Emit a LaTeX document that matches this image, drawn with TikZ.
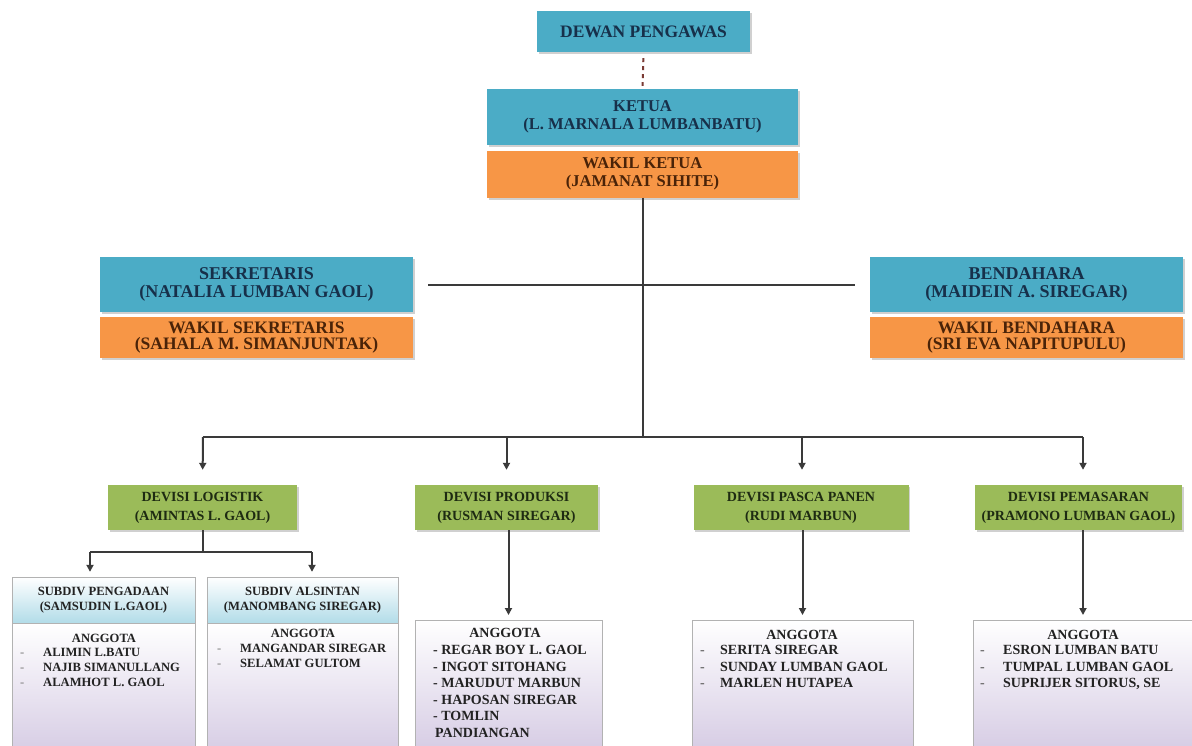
\documentclass[tikz,border=0pt]{standalone}
\usepackage{fontspec}
\setmainfont{Liberation Serif}
\usetikzlibrary{arrows.meta,shadows,calc}
\definecolor{boxblue}{HTML}{4BACC6}
\definecolor{boxorange}{HTML}{F79646}
\definecolor{boxgreen}{HTML}{9BBB59}
\definecolor{txtblue}{HTML}{17304A}
\definecolor{txtbrown}{HTML}{4A2308}
\definecolor{txtgreen}{HTML}{1E2B12}
\definecolor{lav}{HTML}{D3C8E2}
\definecolor{lcyan}{HTML}{B2DCE8}
\definecolor{linegray}{HTML}{3A3A3A}
\definecolor{memtxt}{HTML}{222222}
\definecolor{dashred}{HTML}{7A3A34}
\begin{document}
\begin{tikzpicture}[x=1pt,y=-1pt,
  shad/.style={drop shadow={shadow xshift=1.5pt,shadow yshift=-2pt,fill=black!30,opacity=0.6}},
  bigbox/.style={shad,draw=none,inner sep=0pt,align=center,font=\bfseries\fontsize{16.5}{18}\selectfont},
  bluebox/.style={bigbox,fill=boxblue,text=txtblue},
  orangebox/.style={bigbox,fill=boxorange,text=txtbrown},
  sidefont/.style={font=\bfseries\fontsize{18}{18.5}\selectfont},
  wsidefont/.style={font=\bfseries\fontsize{17.5}{16.5}\selectfont},
  divbox/.style={shad,draw=none,fill=boxgreen,text=txtgreen,inner sep=0pt,align=center,minimum height=45pt,font=\bfseries\fontsize{14}{19}\selectfont},
  subhead/.style={draw=black!30,top color=white,bottom color=lcyan,inner sep=0pt,align=center,minimum width=183pt,minimum height=46pt,text=memtxt,font=\bfseries\fontsize{12.6}{15}\selectfont},
  membox/.style={draw=black!30,top color=white,bottom color=lav,inner sep=0pt},
  memsmall/.style={inner sep=0pt,text=memtxt,font=\bfseries\fontsize{12.6}{14.8}\selectfont},
  membig/.style={inner sep=0pt,text=memtxt,font=\bfseries\fontsize{14}{16.5}\selectfont},
  conn/.style={draw=linegray,line width=2pt},
  arr/.style={conn,-{Triangle[length=7pt,width=7pt]}},
  dashconn/.style={draw=dashred,line width=2pt,dash pattern=on 4pt off 4pt}
]
\useasboundingbox (0,0) rectangle (1192,745);
\clip (0,0) rectangle (1192,745);
\fill[white] (0,0) rectangle (1192,745);

% top
\node[bluebox,minimum width=213pt,minimum height=41pt,font=\bfseries\fontsize{17.5}{18}\selectfont] (dewan) at (643.5,31.5) {DEWAN PENGAWAS};
\node[bluebox,minimum width=311pt,minimum height=56pt] (ketua) at (642.5,117) {KETUA\\(L. MARNALA LUMBANBATU)};
\node[orangebox,minimum width=311pt,minimum height=47pt] (wketua) at (642.5,174) {WAKIL KETUA\\(JAMANAT SIHITE)};

\node[bluebox,sidefont,minimum width=313pt,minimum height=55pt] (sek) at (256.5,284.5) {SEKRETARIS\\(NATALIA LUMBAN GAOL)};
\node[orangebox,wsidefont,minimum width=313pt,minimum height=41pt] (wsek) at (256.5,337.5) {WAKIL SEKRETARIS\\(SAHALA M. SIMANJUNTAK)};
\node[bluebox,sidefont,minimum width=313pt,minimum height=55pt] (bend) at (1026.5,284.5) {BENDAHARA\\(MAIDEIN A. SIREGAR)};
\node[orangebox,wsidefont,minimum width=313pt,minimum height=41pt] (wbend) at (1026.5,337.5) {WAKIL BENDAHARA\\(SRI EVA NAPITUPULU)};

% divisions
\node[divbox,minimum width=189pt] (log) at (202.5,507.5) {DEVISI LOGISTIK\\(AMINTAS L. GAOL)};
\node[divbox,minimum width=183pt] (prod) at (506.5,507.5) {DEVISI PRODUKSI\\(RUSMAN SIREGAR)};
\node[divbox,minimum width=215pt] (pasca) at (801,507.5) {DEVISI PASCA PANEN\\(RUDI MARBUN)};
\node[divbox,minimum width=207pt] (pem) at (1078.5,507.5) {DEVISI PEMASARAN\\(PRAMONO LUMBAN GAOL)};

% subdivisions
\node[subhead] (pengH) at (103.5,600) {SUBDIV PENGADAAN\\(SAMSUDIN L.GAOL)};
\node[subhead,minimum width=191pt] (alsH) at (302.5,600) {SUBDIV ALSINTAN\\(MANOMBANG SIREGAR)};
\node[membox,minimum width=183pt,minimum height=140pt,anchor=north] (pengB) at (pengH.south) {};
\node[membox,minimum width=191pt,minimum height=140pt,anchor=north] (alsB) at (alsH.south) {};

% member boxes
\node[membox,minimum width=187pt,minimum height=140pt,anchor=north] (prodM) at (508.5,620) {};
\node[membox,minimum width=221pt,minimum height=140pt,anchor=north] (pascaM) at (802.5,620) {};
\node[membox,minimum width=224pt,minimum height=140pt,anchor=north] (pemM) at (1085,620) {};

% member texts
\node[memsmall,anchor=base] (pengT) at (104,642.5) {ANGGOTA};
\node[memsmall,anchor=base west] (pengL) at (20,656.5) {\begin{tabular}[t]{@{}p{23pt}@{}l@{}}\textcolor{black!45}{-}&ALIMIN L.BATU\\\textcolor{black!45}{-}&NAJIB SIMANULLANG\\\textcolor{black!45}{-}&ALAMHOT L. GAOL\end{tabular}};

\node[memsmall,anchor=base] (alsT) at (303,637.5) {ANGGOTA};
\node[memsmall,anchor=base west] (alsL) at (217,652.5) {\begin{tabular}[t]{@{}p{23pt}@{}l@{}}\textcolor{black!45}{-}&MANGANDAR SIREGAR\\\textcolor{black!45}{-}&SELAMAT GULTOM\end{tabular}};

\node[membig,anchor=base] (prodT) at (505,637.5) {ANGGOTA};
\node[membig,anchor=base west] (prodL) at (433,654.5) {\begin{tabular}[t]{@{}l@{}}- REGAR BOY L. GAOL\\- INGOT SITOHANG\\- MARUDUT MARBUN\\- HAPOSAN SIREGAR\\- TOMLIN\\\hspace*{2pt}PANDIANGAN\end{tabular}};

\node[membig,anchor=base] (pascaT) at (802,639.5) {ANGGOTA};
\node[membig,anchor=base west] (pascaL) at (700,654.5) {\begin{tabular}[t]{@{}p{20pt}@{}l@{}}\textcolor{black!60}{-}&SERITA SIREGAR\\\textcolor{black!60}{-}&SUNDAY LUMBAN GAOL\\\textcolor{black!60}{-}&MARLEN HUTAPEA\end{tabular}};

\node[membig,anchor=base] (pemT) at (1083,639.5) {ANGGOTA};
\node[membig,anchor=base west] (pemL) at (980,654.5) {\begin{tabular}[t]{@{}p{23pt}@{}l@{}}\textcolor{black!60}{-}&ESRON LUMBAN BATU\\\textcolor{black!60}{-}&TUMPAL LUMBAN GAOL\\\textcolor{black!60}{-}&SUPRIJER SITORUS, SE\end{tabular}};

% connectors
\draw[dashconn,shorten <=6pt,shorten >=3pt] (dewan.south) -- (ketua.north);
\coordinate (busC) at (643,437);
\coordinate (busL) at (203,437);
\coordinate (busR) at (1083,437);
\draw[conn] (wketua.south -| busC) -- (busC);
\draw[conn] ([xshift=15pt]sek.east) -- ([xshift=-15pt]bend.west);
\draw[conn] (busL) -- (busR);
\draw[arr,shorten >=15pt] (busL) -- (log.north);
\draw[arr,shorten >=15pt] (prod.north |- busL) -- (prod.north);
\draw[arr,shorten >=15pt] ([xshift=1pt]pasca.north |- busL) -- ([xshift=1pt]pasca.north);
\draw[arr,shorten >=15pt] (busR) -- (busR |- pem.north);

% logistik to subdivisions
\coordinate (subL) at (90,552);
\coordinate (subR) at (312,552);
\draw[conn] (log.south) -- (log.south |- subL);
\draw[conn] (subL) -- (subR);
\draw[arr,shorten >=5pt] (subL) -- (subL |- pengH.north);
\draw[arr,shorten >=5pt] (subR) -- (subR |- alsH.north);

% divisions to members
\draw[arr,shorten >=5pt] (prod.south -| prodM.north) -- (prodM.north);
\draw[arr,shorten >=5pt] (pasca.south -| pascaM.north) -- (pascaM.north);
\draw[arr,shorten >=5pt] ([xshift=-2pt]pem.south -| pemM.north) -- ([xshift=-2pt]pemM.north);
\end{tikzpicture}
\end{document}
